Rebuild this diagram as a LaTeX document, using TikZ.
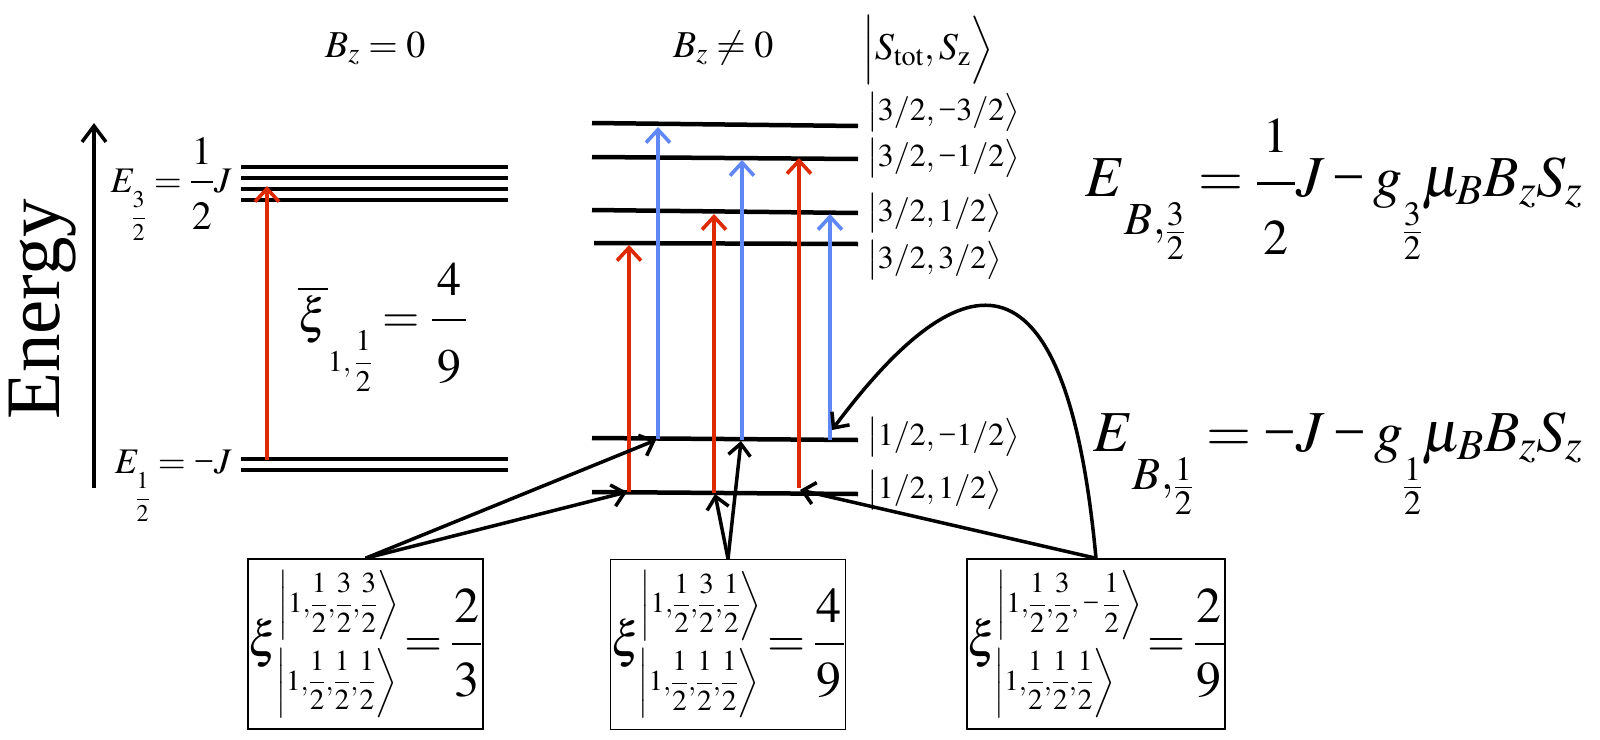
\documentclass[tikz,border=0pt]{standalone}
\usepackage{amsmath}
\usepackage{mathptmx}
\usepackage{fontspec}
\setmainfont{Liberation Serif}
\usetikzlibrary{arrows.meta}
\definecolor{tred}{RGB}{222,42,0}
\definecolor{tblue}{RGB}{95,135,245}
\newcommand{\tminus}{\mathbin{\text{−}}}
\newcommand{\lowbox}[3]{\lower#1\hbox{\fontsize{#2}{#2}\selectfont$#3$}}
% display fraction: [font size]{num}{den}{extra depth under num}{height of den strut}{bar width}
\newcommand{\myfrac}[6][]{\hbox{#1$\displaystyle{{\hbox to #6{\hss$\displaystyle\rule[-#4]{0pt}{#4}#2$\hss}}\above2.4pt{\rule{0pt}{#5}#3}}$}}
\newcommand{\hlf}{\dfrac{1}{2}}
\newcommand{\kc}{{,}}
\newcommand{\xketbox}[1]{\hbox{\fontsize{29}{31}\selectfont$\left|#1\right\rangle$}}
\newcommand{\xiratio}[4]{$\xi\mkern-1mu\vcenter{\offinterlineskip\hbox{\kern2pt\xketbox{#1}}\kern8pt\xketbox{#2}}\mkern-2mu=\mkern-1mu\myfrac[\fontsize{50}{50}\selectfont]{#3}{#4}{0pt}{44pt}{0.58em}$}
\begin{document}
\begin{tikzpicture}[x=1pt,y=-1pt,
  level/.style={line width=4.5pt},
  trans/.style={line width=3.6pt,-{Straight Barb[length=13pt,width=24pt]}},
  redtr/.style={trans,draw=tred},
  bluetr/.style={trans,draw=tblue},
  link/.style={line width=3.5pt,-{Straight Barb[length=12pt,width=22pt]}},
  lbl/.style={inner sep=0pt},
  ket/.style={lbl,anchor=west,font=\fontsize{32}{34}\selectfont},
  ratiobox/.style={draw,line width=1.5pt,minimum width=235pt,minimum height=170pt,inner sep=0pt,font=\fontsize{49}{52}\selectfont}]
\useasboundingbox (0,0) rectangle (1600,739);

% energy axis
\coordinate (eaxb) at (94,488);
\coordinate (eaxt) at (94,123);
\draw[line width=3.5pt,-{Straight Barb[length=16pt,width=24pt]}] (eaxb) -- (eaxt);
\node[lbl,rotate=90,anchor=base west,font=\fontsize{77}{80}\selectfont] (energy) at (59,420) {Energy};

% top labels
\node[lbl,anchor=base west,font=\fontsize{38}{40}\selectfont] (bzero) at (325,57) {$B_z=0$};
\node[lbl,anchor=base west,font=\fontsize{38}{40}\selectfont] (bnonzero) at (673,57) {$B_z\neq0$};
\node[lbl,anchor=west,font=\fontsize{38}{32}\selectfont] (stot) at (862,50) {$\Big|S_{\mathrm{tot}},S_{\mathrm{z}}\Big\rangle$};

% left levels (B_z = 0)
\foreach \y in {167,178,189,200} {\draw[level] (241,\y) -- (508,\y);}
\foreach \y in {459,470} {\draw[level] (241,\y) -- (508,\y);}
\coordinate (lo) at (267,460);
\coordinate (hi) at (267,186);
\draw[redtr] (lo) -- (hi);
\node[lbl,anchor=base east,font=\fontsize{36}{40}\selectfont] (e32) at (232,192) {$E\mkern-2mu\lowbox{32pt}{24}{\dfrac{3}{2}}=\myfrac[\fontsize{40}{40}\selectfont]{1}{2}{0pt}{39pt}{0.55em}J$};
\node[lbl,anchor=base east,font=\fontsize{36}{40}\selectfont] (e12) at (232,473) {$E\mkern-2mu\lowbox{32pt}{24}{\dfrac{1}{2}}=\tminus J$};
\node[lbl,anchor=base west,font=\fontsize{48}{52}\selectfont] (xibar) at (298,332) {$\overline{\xi}\lowbox{39pt}{30}{1,\dfrac{1}{2}}=\myfrac{4}{9}{16pt}{54pt}{0.72em}$};

% middle levels (B_z != 0)
\draw[level] (592,123) -- (858,126);
\draw[level] (592,157) -- (858,159);
\draw[level] (592,210) -- (858,213);
\draw[level] (594,243) -- (858,244);
\draw[level] (592,438) -- (858,440);
\draw[level] (592,492) -- (858,494);

\node[ket] (k1) at (867,112) {$\big|3/2,\tminus3/2\big\rangle$};
\node[ket] (k2) at (867,158) {$\big|3/2,\tminus1/2\big\rangle$};
\node[ket] (k3) at (867,213) {$\big|3/2,1/2\big\rangle$};
\node[ket] (k4) at (867,260) {$\big|3/2,3/2\big\rangle$};
\node[ket] (k5) at (867,437) {$\big|1/2,\tminus1/2\big\rangle$};
\node[ket] (k6) at (867,490) {$\big|1/2,1/2\big\rangle$};

% transitions
\coordinate (r1b) at (629,492); \coordinate (r1t) at (629,245);
\coordinate (u1b) at (658,439); \coordinate (u1t) at (658,127);
\coordinate (r2b) at (714,493); \coordinate (r2t) at (714,214);
\coordinate (u2b) at (742,440); \coordinate (u2t) at (742,160);
\coordinate (r3b) at (799,488); \coordinate (r3t) at (799,158);
\coordinate (u3b) at (830,440); \coordinate (u3t) at (830,214);
\draw[redtr] (r1b) -- (r1t);
\draw[bluetr] (u1b) -- (u1t);
\draw[redtr] (r2b) -- (r2t);
\draw[bluetr] (u2b) -- (u2t);
\draw[redtr] (r3b) -- (r3t);
\draw[bluetr] (u3b) -- (u3t);

% right formulas
\node[lbl,anchor=base west,font=\fontsize{58}{62}\selectfont] (eb32) at (1085,196) {$E\lowbox{38pt}{46}{B,}\lowbox{48pt}{46}{\tfrac{3}{2}}=\myfrac[\fontsize{50}{50}\selectfont]{1}{2}{23pt}{63pt}{0.76em}J\tminus g\lowbox{48pt}{46}{\tfrac{3}{2}}\mu_B B_z S_z$};
\node[lbl,anchor=base west,font=\fontsize{58}{62}\selectfont] (eb12) at (1093,451) {$E\lowbox{38pt}{46}{B,}\lowbox{48pt}{46}{\tfrac{1}{2}}=\tminus J\tminus g\lowbox{48pt}{46}{\tfrac{1}{2}}\mu_B B_z S_z$};

% boxes
\node[ratiobox] (box1) at (365.5,644) {\xiratio{1\kc\hlf\kc\dfrac{3}{2}\kc\dfrac{3}{2}}{1\kc\hlf\kc\hlf\kc\hlf}{2}{3}};
\node[ratiobox] (box2) at (728,644.5) {\xiratio{1\kc\hlf\kc\dfrac{3}{2}\kc\hlf}{1\kc\hlf\kc\hlf\kc\hlf}{4}{9}};
\node[ratiobox,minimum width=246pt] (box3) at (1096,644) {\xiratio{1\kc\hlf\kc\dfrac{3}{2}\kc\tminus\hlf}{1\kc\hlf\kc\hlf\kc\hlf}{2}{9}};

% connectors
\coordinate (a5) at (656,440); \coordinate (a6) at (627,492);
\coordinate (b6) at (715,494); \coordinate (b5) at (741,441);
\coordinate (c6) at (800,490); \coordinate (c5) at (832,430);
\draw[link] (box1.north) -- (a5);
\draw[link] (box1.north) -- (a6);
\draw[link] (box2.north) -- (b6);
\draw[link] (box2.north) -- (b5);
\draw[link] (box3.north) -- (c6);
\draw[link] (box3.north) .. controls (1065,225) and (955,265) .. (c5);
\end{tikzpicture}
\end{document}
